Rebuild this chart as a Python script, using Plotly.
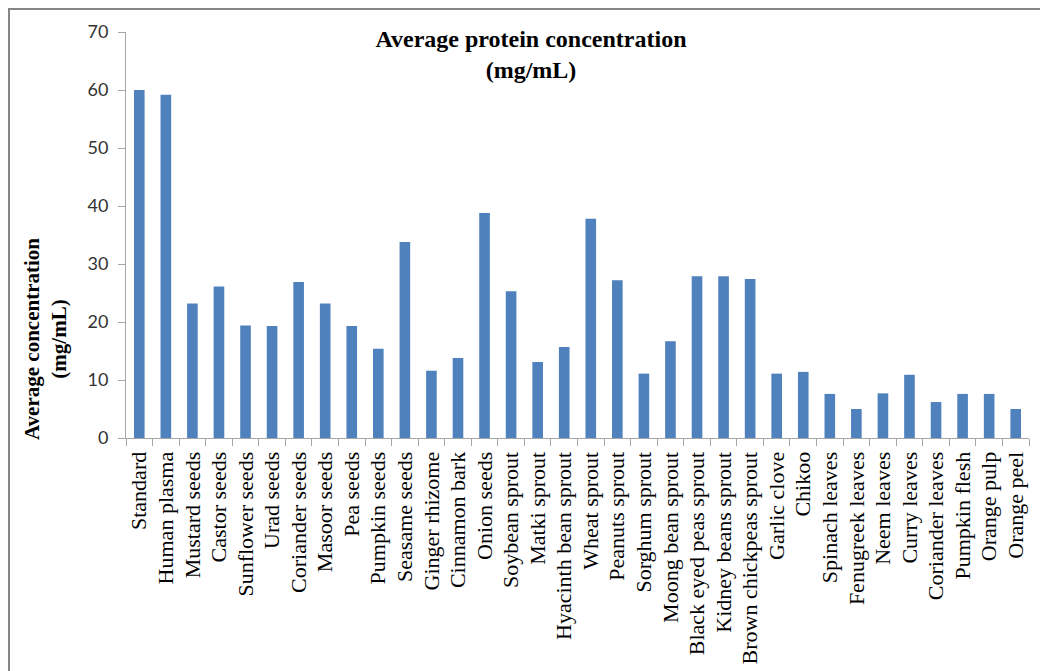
import plotly.graph_objects as go

# Average protein concentration per sample (mg/mL)
samples = [
    "Standard", "Human plasma", "Mustard seeds", "Castor seeds", "Sunflower seeds",
    "Urad seeds", "Coriander seeds", "Masoor seeds", "Pea seeds", "Pumpkin seeds",
    "Seasame seeds", "Ginger rhizome", "Cinnamon bark", "Onion seeds", "Soybean sprout",
    "Matki sprout", "Hyacinth bean sprout", "Wheat sprout", "Peanuts sprout",
    "Sorghum sprout", "Moong bean sprout", "Black eyed peas sprout",
    "Kidney beans sprout", "Brown chickpeas sprout", "Garlic clove", "Chikoo",
    "Spinach leaves", "Fenugreek leaves", "Neem leaves", "Curry leaves",
    "Coriander leaves", "Pumpkin flesh", "Orange pulp", "Orange peel",
]
concentration = [
    60.0, 59.2, 23.2, 26.1, 19.4,
    19.3, 26.9, 23.2, 19.3, 15.4,
    33.8, 11.6, 13.8, 38.8, 25.3,
    13.1, 15.7, 37.8, 27.2,
    11.1, 16.7, 27.9,
    27.9, 27.4, 11.1, 11.4,
    7.6, 5.0, 7.7, 10.9,
    6.2, 7.6, 7.6, 5.0,
]
y_ticks = [0, 10, 20, 30, 40, 50, 60, 70]

W, H = 1040, 671
L, R, T, B = 126, 11, 32, 233
plot_w = W - L - R
plot_h = H - T - B

AXIS_GRAY = "#A6A6A6"
SERIF = "Liberation Serif"

fig = go.Figure(
    go.Bar(
        x=samples,
        y=concentration,
        marker=dict(color="#4F81BD", line=dict(width=0)),
        hoverinfo="x+y",
    )
)

fig.update_layout(
    width=W,
    height=H,
    margin=dict(l=L, r=R, t=T, b=B, autoexpand=False),
    paper_bgcolor="white",
    plot_bgcolor="white",
    bargap=0.6,
    showlegend=False,
    title=dict(
        text="Average protein concentration<br>(mg/mL)",
        font=dict(family=SERIF, size=24, color="black", weight="bold"),
        x=531 / W,
        xref="container",
        xanchor="center",
        y=1 - 47 / H,
        yref="container",
        yanchor="middle",
    ),
    xaxis=dict(
        type="category",
        automargin=False,
        tickangle=-90,
        tickfont=dict(family=SERIF, size=22, color="black"),
        showline=True,
        linecolor=AXIS_GRAY,
        linewidth=1,
        ticks="outside",
        tickson="boundaries",
        ticklen=7,
        tickcolor=AXIS_GRAY,
        showgrid=False,
        ticklabelstandoff=4,
    ),
    yaxis=dict(
        range=[0, 70],
        automargin=False,
        tickvals=y_ticks,
        tickfont=dict(family="Lato", size=18, color="#333333"),
        showline=True,
        linecolor=AXIS_GRAY,
        linewidth=1,
        ticks="outside",
        ticklen=7,
        tickcolor=AXIS_GRAY,
        showgrid=False,
        zeroline=False,
        ticklabelstandoff=6,
    ),
)

# Rotated y-axis caption placed left of the tick labels
fig.add_annotation(
    text="Average concentration<br>(mg/mL)",
    textangle=-90,
    font=dict(family=SERIF, size=21, color="black", weight="bold"),
    xref="paper",
    yref="paper",
    x=(45 - L) / plot_w,
    y=(H - B - 339) / plot_h,
    xanchor="center",
    yanchor="middle",
    showarrow=False,
)

# Gray frame around the figure area
fig.add_shape(
    type="rect",
    xref="paper",
    yref="paper",
    x0=(9 - L) / plot_w,
    x1=(W + 10 - L) / plot_w,
    y0=(H - B - (H + 10)) / plot_h,
    y1=(H - B - 9) / plot_h,
    line=dict(color="#868686", width=2),
    fillcolor="rgba(0,0,0,0)",
    layer="below",
)

fig.write_html("out.html")
